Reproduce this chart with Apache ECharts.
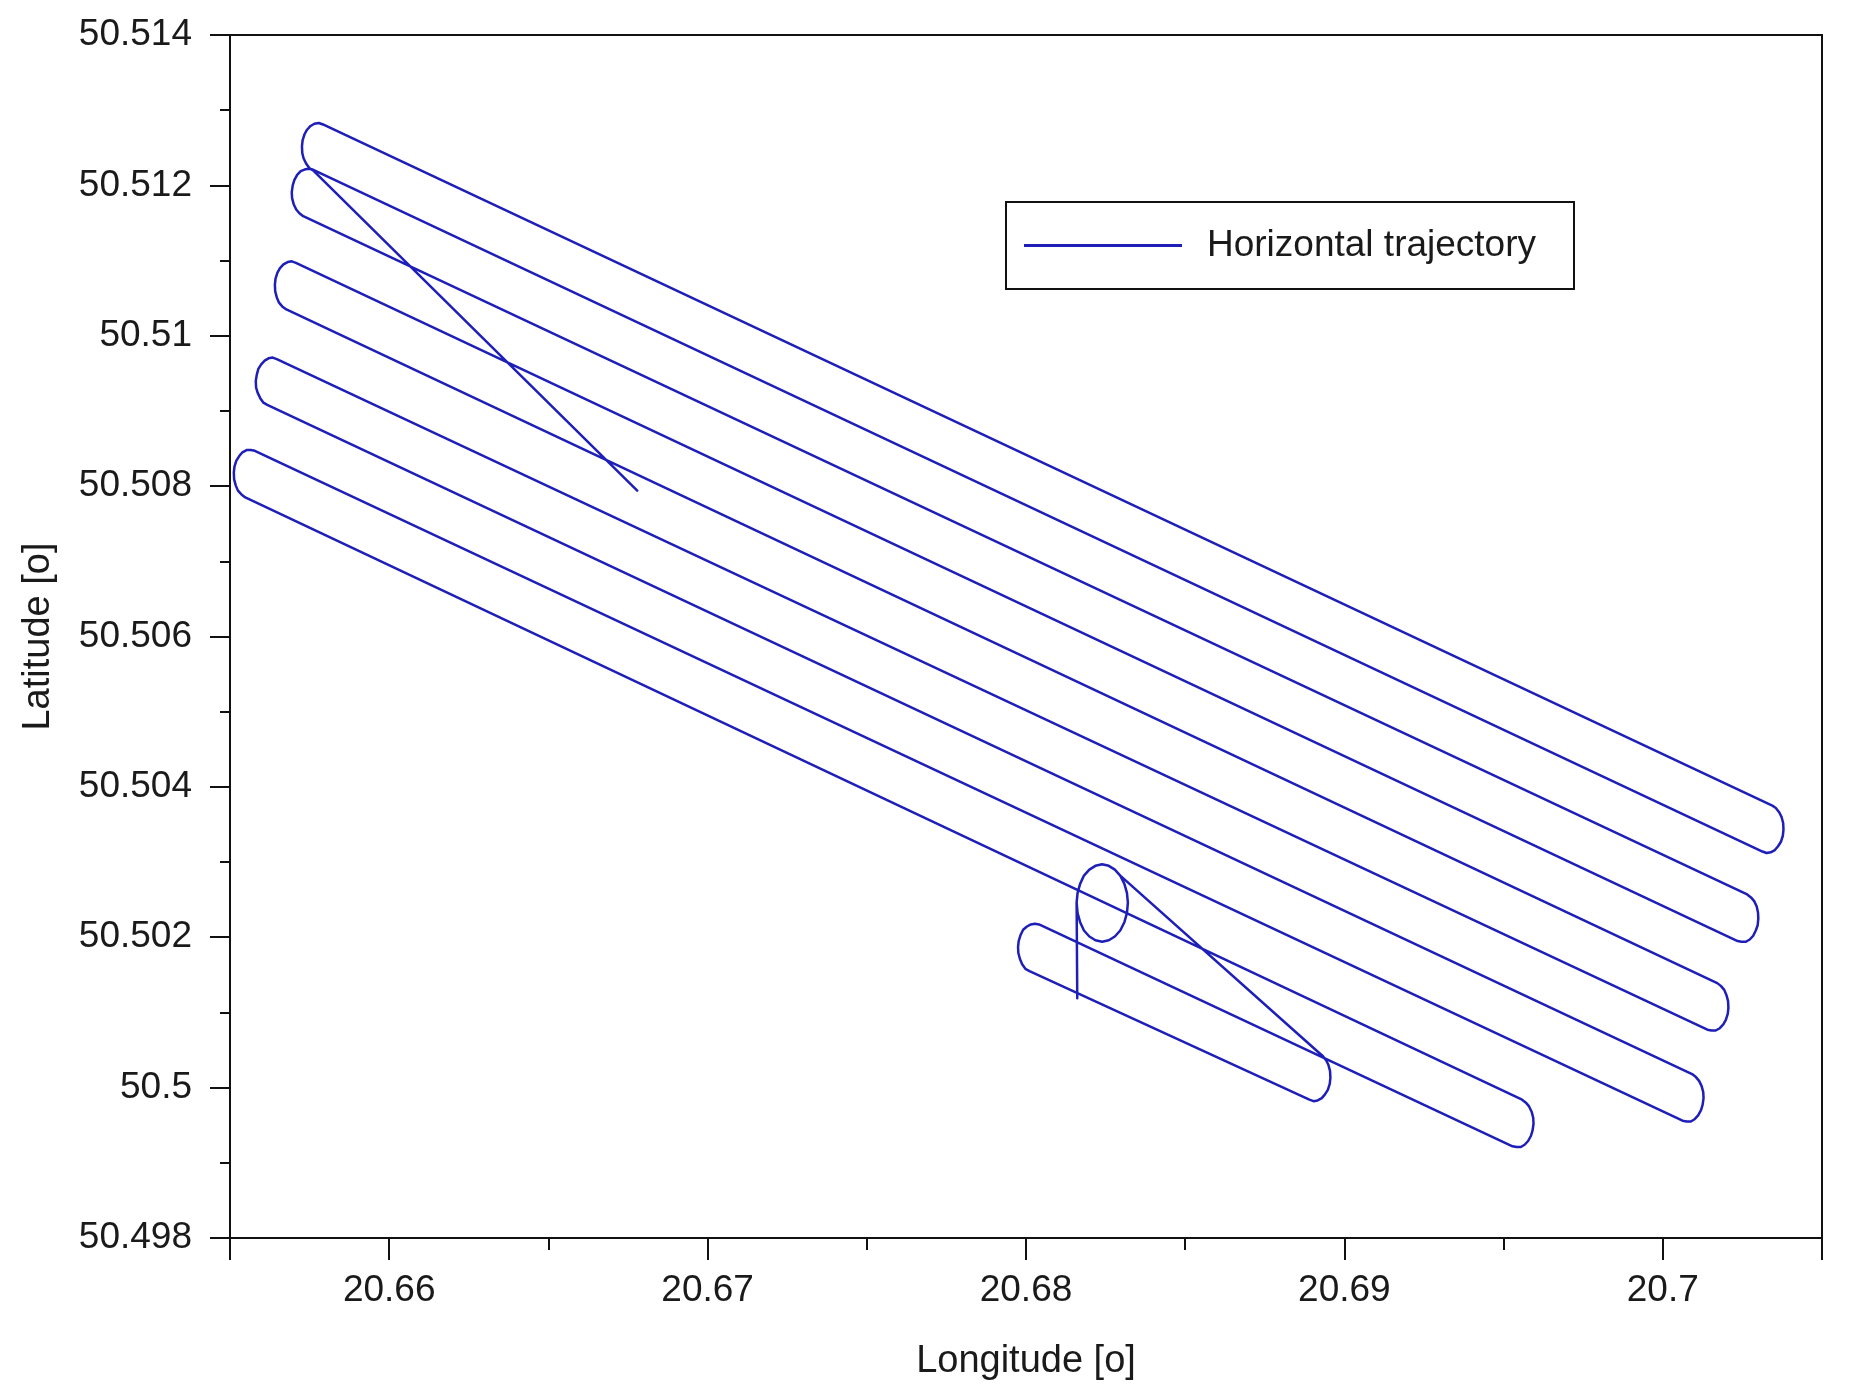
<!DOCTYPE html>
<html>
<head>
<meta charset="utf-8">
<script src="https://cdn.jsdelivr.net/npm/echarts@6/dist/echarts.min.js"></script>
<style>
html,body{margin:0;padding:0;background:#fff;}
#chart{width:1866px;height:1393px;}
</style>
</head>
<body>
<div id="chart"></div>
<script>
// Horizontal trajectory (flight order): take-off, circle, steep leg, lawnmower strips, return leg
const lon = [
  20.68161,
  20.68159, 20.68162, 20.68170, 20.68182, 20.68199, 20.68218, 20.68239, 20.68260, 20.68279, 20.68296, 20.68309, 20.68317,
  20.68320, 20.68317, 20.68309, 20.68296, 20.68279, 20.68260, 20.68239, 20.68218, 20.68199, 20.68182, 20.68170, 20.68162,
  20.68159, 20.68162, 20.68170, 20.68182, 20.68199, 20.68218, 20.68239, 20.68260, 20.68279, 20.68296,
  20.68921, 20.68932, 20.68943, 20.68950, 20.68955, 20.68956, 20.68954, 20.68948, 20.68939, 20.68929, 20.68916, 20.68903, 20.68890,
  20.68011, 20.67998, 20.67988, 20.67981, 20.67976, 20.67975, 20.67977, 20.67983, 20.67991, 20.68002, 20.68015, 20.68028, 20.68041,
  20.69528, 20.69541, 20.69554, 20.69566, 20.69577, 20.69586, 20.69591, 20.69594, 20.69593, 20.69588, 20.69580, 20.69570, 20.69558,
  20.65548, 20.65536, 20.65525, 20.65518, 20.65513, 20.65512, 20.65514, 20.65520, 20.65529, 20.65539, 20.65552, 20.65565, 20.65578,
  20.70062, 20.70075, 20.70088, 20.70100, 20.70111, 20.70120, 20.70125, 20.70128, 20.70127, 20.70122, 20.70114, 20.70104, 20.70092,
  20.65617, 20.65605, 20.65595, 20.65587, 20.65582, 20.65581, 20.65584, 20.65589, 20.65598, 20.65609, 20.65621, 20.65634, 20.65647,
  20.70140, 20.70153, 20.70166, 20.70179, 20.70190, 20.70198, 20.70204, 20.70206, 20.70205, 20.70200, 20.70193, 20.70183, 20.70171,
  20.65677, 20.65664, 20.65654, 20.65647, 20.65642, 20.65641, 20.65643, 20.65649, 20.65657, 20.65668, 20.65681, 20.65694, 20.65707,
  20.70235, 20.70247, 20.70261, 20.70273, 20.70284, 20.70292, 20.70298, 20.70300, 20.70299, 20.70295, 20.70287, 20.70277, 20.70265,
  20.65730, 20.65718, 20.65708, 20.65700, 20.65695, 20.65694, 20.65697, 20.65702, 20.65711, 20.65722, 20.65734, 20.65747, 20.65760,
  20.70313, 20.70326, 20.70339, 20.70352, 20.70362, 20.70371, 20.70377, 20.70379, 20.70378, 20.70373, 20.70366, 20.70355, 20.70344,
  20.65792, 20.65779, 20.65765, 20.65753, 20.65742, 20.65734, 20.65728, 20.65726, 20.65727, 20.65731, 20.65739, 20.65749, 20.65761,
  20.66779
];
const lat = [
  50.50119,
  50.50246, 50.50259, 50.50271, 50.50282, 50.50290, 50.50295, 50.50297, 50.50295, 50.50290, 50.50282, 50.50271, 50.50259,
  50.50246, 50.50232, 50.50220, 50.50209, 50.50201, 50.50196, 50.50194, 50.50196, 50.50201, 50.50209, 50.50220, 50.50232,
  50.50246, 50.50259, 50.50271, 50.50282, 50.50290, 50.50295, 50.50297, 50.50295, 50.50290, 50.50282,
  50.50046, 50.50042, 50.50036, 50.50030, 50.50022, 50.50013, 50.50005, 50.49997, 50.49991, 50.49986, 50.49983, 50.49982, 50.49984,
  50.50155, 50.50158, 50.50164, 50.50171, 50.50179, 50.50187, 50.50195, 50.50203, 50.50210, 50.50214, 50.50217, 50.50218, 50.50217,
  50.49922, 50.49921, 50.49921, 50.49924, 50.49929, 50.49936, 50.49943, 50.49952, 50.49960, 50.49968, 50.49975, 50.49980, 50.49984,
  50.50785, 50.50789, 50.50794, 50.50801, 50.50809, 50.50818, 50.50826, 50.50834, 50.50840, 50.50845, 50.50848, 50.50848, 50.50847,
  50.49956, 50.49955, 50.49955, 50.49958, 50.49963, 50.49970, 50.49977, 50.49986, 50.49994, 50.50002, 50.50009, 50.50014, 50.50018,
  50.50908, 50.50911, 50.50917, 50.50924, 50.50931, 50.50940, 50.50948, 50.50956, 50.50962, 50.50967, 50.50970, 50.50971, 50.50969,
  50.50077, 50.50076, 50.50076, 50.50079, 50.50084, 50.50090, 50.50098, 50.50106, 50.50115, 50.50123, 50.50130, 50.50135, 50.50139,
  50.51035, 50.51039, 50.51044, 50.51051, 50.51059, 50.51068, 50.51076, 50.51084, 50.51090, 50.51095, 50.51098, 50.51099, 50.51097,
  50.50195, 50.50194, 50.50194, 50.50197, 50.50202, 50.50209, 50.50216, 50.50225, 50.50233, 50.50241, 50.50248, 50.50253, 50.50257,
  50.51159, 50.51163, 50.51168, 50.51175, 50.51183, 50.51191, 50.51200, 50.51207, 50.51214, 50.51219, 50.51221, 50.51222, 50.51221,
  50.50314, 50.50312, 50.50313, 50.50316, 50.50321, 50.50327, 50.50335, 50.50343, 50.50352, 50.50360, 50.50366, 50.50372, 50.50375,
  50.51281, 50.51283, 50.51282, 50.51279, 50.51274, 50.51268, 50.51260, 50.51252, 50.51243, 50.51236, 50.51229, 50.51223, 50.51220,
  50.50794
];
const seriesName = 'Horizontal trajectory';
const xAxisName = 'Longitude [o]';
const yAxisName = 'Latitude [o]';
const xRange = [20.655, 20.705];
const yRange = [50.498, 50.514];
const yStep = 0.002;

const points = lon.map((x, i) => [x, lat[i]]);
const FONT = '"Liberation Sans", Arial, sans-serif';
const INK = '#1a1a1a';
const LINE = '#1e1eb8';

const chart = echarts.init(document.getElementById('chart'), null, {renderer: 'canvas'});
chart.setOption({
  animation: false,
  backgroundColor: '#ffffff',
  grid: {
    left: 230, top: 35, width: 1592, height: 1203,
    show: true, borderColor: '#111', borderWidth: 2, backgroundColor: '#ffffff'
  },
  legend: {
    show: true,
    left: 1006, top: 202,
    orient: 'horizontal',
    padding: [25, 38, 25, 18],
    borderColor: '#111', borderWidth: 2,
    backgroundColor: '#fff',
    itemWidth: 158, itemHeight: 3,
    textStyle: {fontFamily: FONT, fontSize: 37, color: INK, padding: [0, 0, 0, 20]},
    data: [{name: seriesName, icon: 'rect', itemStyle: {color: LINE}}]
  },
  xAxis: {
    type: 'value',
    min: xRange[0], max: xRange[1],
    splitNumber: 5,
    name: xAxisName, nameLocation: 'middle', nameGap: 105,
    nameTextStyle: {fontFamily: FONT, fontSize: 38, color: INK},
    axisLine: {show: true, onZero: false, lineStyle: {color: '#111', width: 2}},
    axisTick: {show: true, inside: false, length: 22, lineStyle: {color: '#111', width: 2}},
    minorTick: {show: true, splitNumber: 2, length: 12, lineStyle: {color: '#111', width: 2}},
    axisLabel: {show: true, margin: 34, fontFamily: FONT, fontSize: 37, color: INK,
      showMinLabel: false, showMaxLabel: false},
    splitLine: {show: false}
  },
  yAxis: {
    type: 'value',
    min: yRange[0], max: yRange[1], interval: yStep,
    name: yAxisName, nameLocation: 'middle', nameGap: 172, nameRotate: 90,
    nameTextStyle: {fontFamily: FONT, fontSize: 38, color: INK},
    axisLine: {show: true, onZero: false, lineStyle: {color: '#111', width: 2}},
    axisTick: {show: true, inside: false, length: 20, lineStyle: {color: '#111', width: 2}},
    minorTick: {show: true, splitNumber: 2, length: 10, lineStyle: {color: '#111', width: 2}},
    axisLabel: {show: true, margin: 38, fontFamily: FONT, fontSize: 37, color: INK},
    splitLine: {show: false}
  },
  series: [{
    name: seriesName,
    type: 'line',
    data: points,
    symbol: 'none',
    showSymbol: false,
    smooth: false,
    clip: false,
    lineStyle: {color: LINE, width: 2.5, join: 'round', cap: 'round'},
    itemStyle: {color: LINE}
  }]
});
</script>
</body>
</html>
